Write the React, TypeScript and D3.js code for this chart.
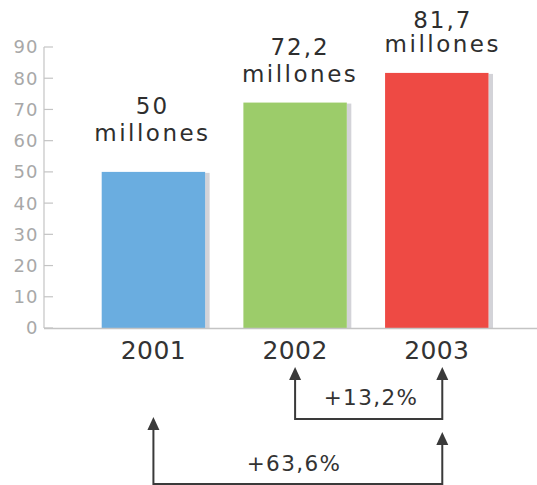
import React from "react";
import * as d3 from "d3";

const years = ["2001", "2002", "2003"];
const values = [50, 72.2, 81.7];
const valueLabels = ["50", "72,2", "81,7"];
const unitLabel = "millones";
const barColors = ["#6aade0", "#9ccc6a", "#ee4a44"];
const yTicks = [0, 10, 20, 30, 40, 50, 60, 70, 80, 90];
const growth = [
  { from: "2002", to: "2003", label: "+13,2%" },
  { from: "2001", to: "2003", label: "+63,6%" },
];

const W = 537;
const H = 485;
const FONT = "'DejaVu Sans', sans-serif";

// layout tweaks for labels (not data)
const labelLayout = [
  { dx: -1, gap: 31, lead: 27 },
  { dx: 5, gap: 21, lead: 27 },
  { dx: 6, gap: 21, lead: 24 },
];
const arrowLayout = [
  { fromTip: 367, toTip: 367, baseY: 419, textX: 371, textY: 405 },
  { fromTip: 417, toTip: 432, baseY: 484, textX: 294, textY: 471 },
];
const arrowDx: Record<string, number> = { "2001": 0, "2002": 0, "2003": 5.5 };

export default function App() {
  const y = d3.scaleLinear().domain([0, 90]).range([328, 47]);
  const x = d3
    .scaleBand<string>()
    .domain(years)
    .range([101.7, 488.5])
    .paddingInner(0.27)
    .paddingOuter(0);
  const bw = x.bandwidth();
  const cx = (yr: string) => (x(yr) as number) + bw / 2;
  const axisColor = "#c4c4c4";
  const dark = "#3a3a3a";

  const arrowHead = (px: number, py: number) =>
    `M${px},${py} L${px - 6},${py + 13} L${px + 6},${py + 13} Z`;

  return (
    <div style={{ position: "fixed", left: 0, top: 0, background: "#fff" }}>
      <svg width={W} height={H} style={{ display: "block" }}>
        <rect width={W} height={H} fill="#fff" />
        {/* y axis */}
        <line x1={44} x2={44} y1={y(90)} y2={y(0)} stroke={axisColor} strokeWidth={1.2} />
        {yTicks.map((t) => (
          <g key={t}>
            <line x1={44} x2={53} y1={y(t)} y2={y(t)} stroke={axisColor} strokeWidth={1.2} />
            <text
              x={38.5}
              y={y(t)}
              dy="0.36em"
              textAnchor="end"
              fontFamily={FONT}
              fontSize={18}
              letterSpacing={1}
              fill="#a8a8a8"
            >
              {t}
            </text>
          </g>
        ))}
        {/* bars */}
        {years.map((yr, i) => {
          const x0 = x(yr) as number;
          const top = y(values[i]);
          return (
            <g key={yr}>
              <rect x={x0 + bw} y={top + 1} width={4.5} height={y(0) - top - 1} fill="#d3d3d8" />
              <rect x={x0} y={top} width={bw} height={y(0) - top} fill={barColors[i]} />
            </g>
          );
        })}
        {/* baseline */}
        <line x1={44} x2={W} y1={y(0) + 0.5} y2={y(0) + 0.5} stroke={axisColor} strokeWidth={1.5} />
        {/* value labels */}
        {years.map((yr, i) => {
          const L = labelLayout[i];
          const base = y(values[i]) - L.gap;
          return (
            <g key={yr} fontFamily={FONT} fontSize={23} fill="#2e2e2e" textAnchor="middle">
              <text x={cx(yr) + L.dx} y={base - L.lead} letterSpacing={2}>
                {valueLabels[i]}
              </text>
              <text x={cx(yr) + L.dx} y={base} letterSpacing={2.5}>
                {unitLabel}
              </text>
            </g>
          );
        })}
        {/* year labels */}
        {years.map((yr) => (
          <text
            key={yr}
            x={cx(yr)}
            y={359}
            textAnchor="middle"
            fontFamily={FONT}
            fontSize={25}
            letterSpacing={0.4}
            fill="#333"
          >
            {yr}
          </text>
        ))}
        {/* growth arrows */}
        {growth.map((g, i) => {
          const A = arrowLayout[i];
          const x1 = cx(g.from) + arrowDx[g.from];
          const x2 = cx(g.to) + arrowDx[g.to];
          return (
            <g key={g.label}>
              <path
                d={`M${x1},${A.fromTip + 10} L${x1},${A.baseY} L${x2},${A.baseY} L${x2},${A.toTip + 10}`}
                fill="none"
                stroke={dark}
                strokeWidth={2}
              />
              <path d={arrowHead(x1, A.fromTip)} fill={dark} />
              <path d={arrowHead(x2, A.toTip)} fill={dark} />
              <text
                x={A.textX}
                y={A.textY}
                textAnchor="middle"
                fontFamily={FONT}
                fontSize={21.5}
                letterSpacing={1.4}
                fill="#333"
              >
                {g.label}
              </text>
            </g>
          );
        })}
      </svg>
    </div>
  );
}
